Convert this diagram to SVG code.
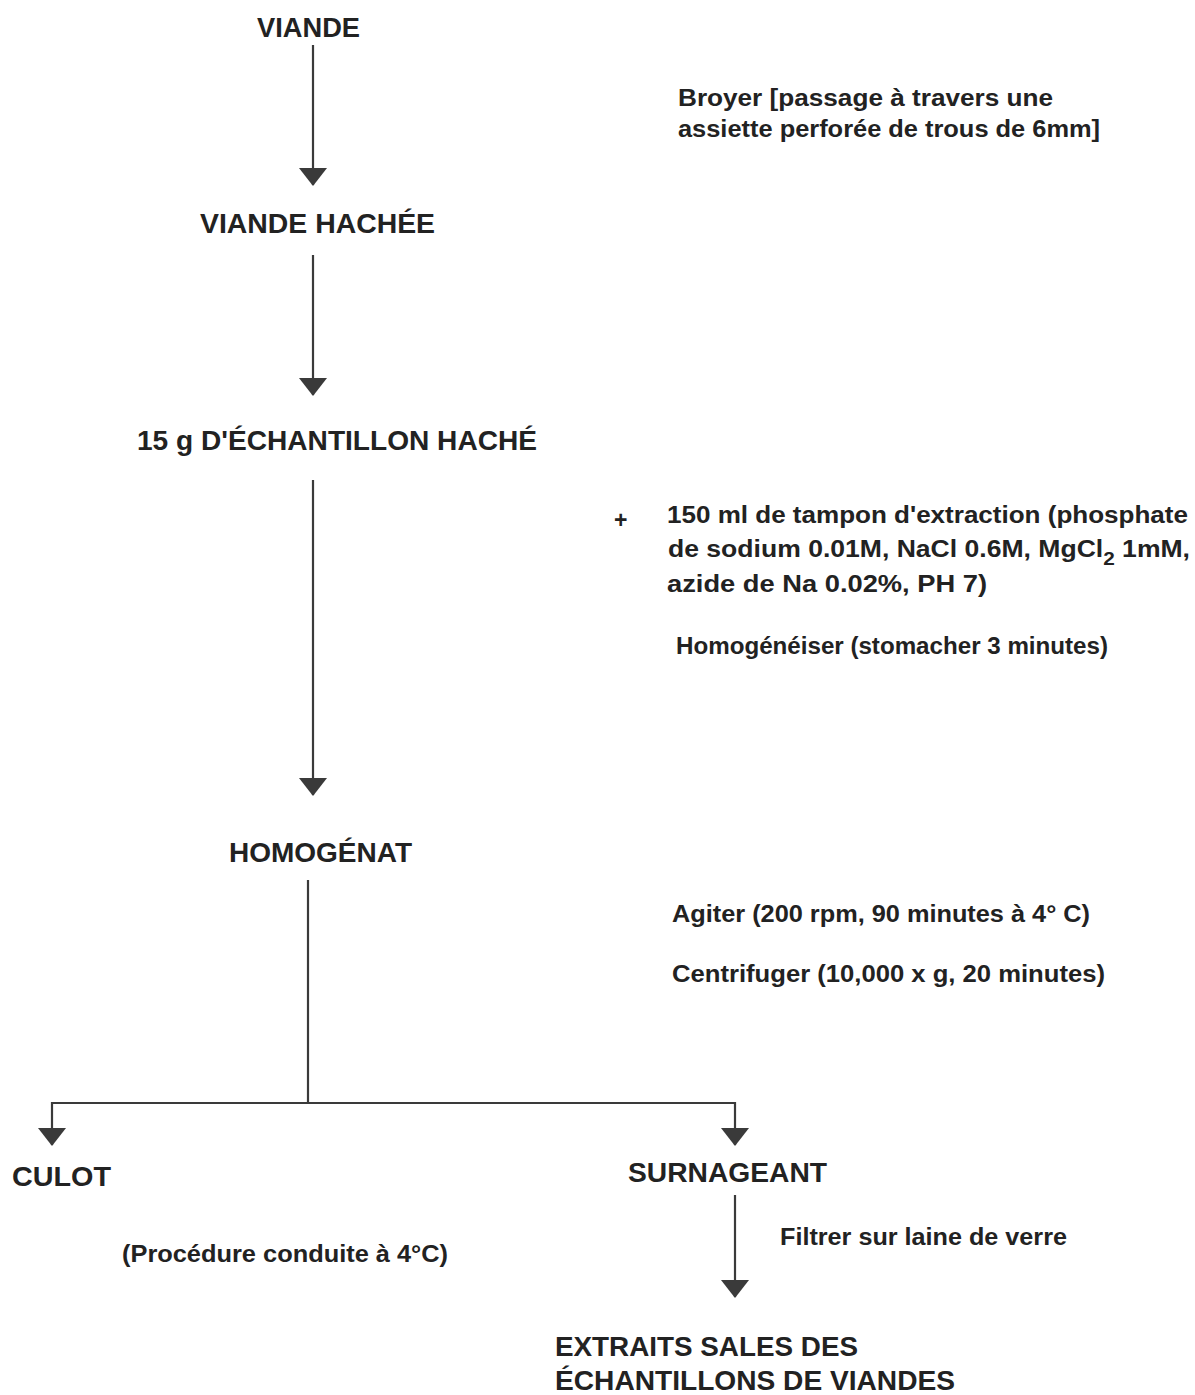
<svg xmlns="http://www.w3.org/2000/svg" width="1195" height="1395" viewBox="0 0 1195 1395">
<style>
text{font-family:"Liberation Sans",Arial,sans-serif;font-weight:bold;fill:#222}
.t{font-size:27px}
.n{font-size:27px}
.s{font-size:23px}
.c{stroke:#3a3a3a;stroke-width:2.2;fill:none}
</style>
<defs>
<marker id="ah" markerUnits="userSpaceOnUse" viewBox="0 0 18 28" markerWidth="18" markerHeight="28" refX="17" refY="14" orient="auto">
<path d="M0,0 L18,14 L0,28 z" fill="#3a3a3a"/>
</marker>
</defs>
<rect width="1195" height="1395" fill="#fff"/>
<g id="connectors">
<line class="c" x1="313" y1="45" x2="313" y2="185" marker-end="url(#ah)"/>
<line class="c" x1="313" y1="255" x2="313" y2="395" marker-end="url(#ah)"/>
<line class="c" x1="313" y1="480" x2="313" y2="795" marker-end="url(#ah)"/>
<line class="c" x1="308" y1="880" x2="308" y2="1103"/>
<polyline class="c" points="308,1103 52,1103 52,1145" marker-end="url(#ah)"/>
<polyline class="c" points="308,1103 735,1103 735,1145" marker-end="url(#ah)"/>
<line class="c" x1="735" y1="1195" x2="735" y2="1297" marker-end="url(#ah)"/>
</g>
<g id="viande"><text class="t" x="257" y="37" textLength="103" lengthAdjust="spacingAndGlyphs">VIANDE</text></g>
<g id="broyer">
<text class="s" x="678" y="106" textLength="375" lengthAdjust="spacingAndGlyphs">Broyer  [passage à travers une</text>
<text class="s" x="678" y="137" textLength="422" lengthAdjust="spacingAndGlyphs">assiette perforée de trous de 6mm]</text>
</g>
<g id="viande-hachee"><text class="t" x="200" y="233" textLength="235" lengthAdjust="spacingAndGlyphs">VIANDE  HACHÉE</text></g>
<g id="echantillon"><text class="t" x="137" y="450" textLength="400" lengthAdjust="spacingAndGlyphs">15 g D'ÉCHANTILLON HACHÉ</text></g>
<g id="tampon">
<text class="s" x="614" y="528">+</text>
<text class="s" x="667" y="523" textLength="521" lengthAdjust="spacingAndGlyphs">150 ml de tampon d'extraction (phosphate</text>
<text class="s" x="668" y="557" textLength="522" lengthAdjust="spacingAndGlyphs">de  sodium 0.01M, NaCl 0.6M, MgCl<tspan dy="8" font-size="18">2</tspan><tspan dy="-8"> 1mM,</tspan></text>
<text class="s" x="667" y="592" textLength="320" lengthAdjust="spacingAndGlyphs">azide de Na  0.02%, PH 7)</text>
<text class="s" x="676" y="654" textLength="432" lengthAdjust="spacingAndGlyphs">Homogénéiser (stomacher 3 minutes)</text>
</g>
<g id="homogenat"><text class="t" x="229" y="862" textLength="183" lengthAdjust="spacingAndGlyphs">HOMOGÉNAT</text></g>
<g id="agiter">
<text class="s" x="672" y="922" textLength="418" lengthAdjust="spacingAndGlyphs">Agiter (200 rpm, 90 minutes à 4° C)</text>
<text class="s" x="672" y="982" textLength="433" lengthAdjust="spacingAndGlyphs">Centrifuger (10,000 x g, 20 minutes)</text>
</g>
<g id="culot"><text class="n" x="12" y="1186" textLength="99" lengthAdjust="spacingAndGlyphs">CULOT</text></g>
<g id="surnageant"><text class="n" x="628" y="1182" textLength="199" lengthAdjust="spacingAndGlyphs">SURNAGEANT</text></g>
<g id="procedure"><text class="s" x="122" y="1262" textLength="326" lengthAdjust="spacingAndGlyphs">(Procédure conduite à 4°C)</text></g>
<g id="filtrer"><text class="s" x="780" y="1245" textLength="287" lengthAdjust="spacingAndGlyphs">Filtrer sur laine de verre</text></g>
<g id="extraits">
<text class="t" x="555" y="1356" textLength="303" lengthAdjust="spacingAndGlyphs">EXTRAITS SALES DES</text>
<text class="t" x="555" y="1390" textLength="400" lengthAdjust="spacingAndGlyphs">ÉCHANTILLONS DE VIANDES</text>
</g>
</svg>
